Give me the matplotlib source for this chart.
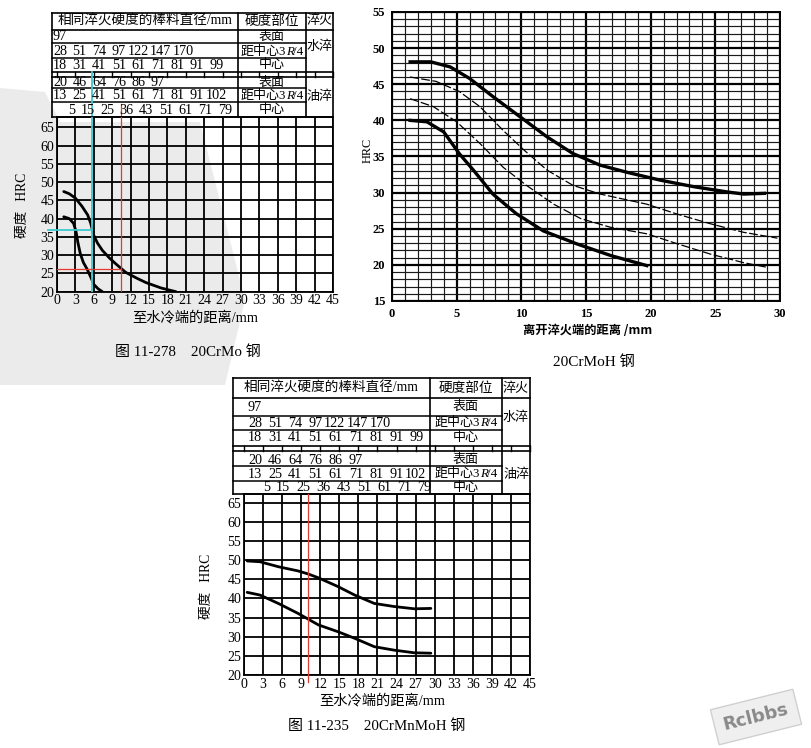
import matplotlib
matplotlib.use("Agg")
import matplotlib.pyplot as plt
from matplotlib.patches import Polygon

W, H = 812, 748
SERIF = ["Liberation Serif", "Noto Sans CJK SC"]
SANS_CJK = ["Noto Sans CJK SC", "DejaVu Sans"]

# ── shared table: bar diameters with the same quench hardness (mm) ──────────
water_surface = [97]
water_3r4     = [28, 51, 74, 97, 122, 147, 170]
water_center  = [18, 31, 41, 51, 61, 71, 81, 91, 99]
oil_surface   = [20, 46, 64, 76, 86, 97]
oil_3r4       = [13, 25, 41, 51, 61, 71, 81, 91, 102]
oil_center    = [5, 15, 25, 36, 43, 51, 61, 71, 79]
positions     = ["表面", "距中心3R/4", "中心", "表面", "距中心3R/4", "中心"]

# ── 20CrMo (fig 11-278) ─────────────────────────────────────────────────────
crmo_x_hi = [1.1, 2.0, 3.0, 4.1, 5.0, 5.5, 6.0, 6.6, 7.4, 8.5, 9.6, 11.2, 13.0, 14.5, 17.0, 19.4]
crmo_y_hi = [47.4, 46.8, 45.6, 43.3, 41.0, 38.7, 35.4, 33.3, 31.3, 29.3, 27.6, 25.3, 23.7, 22.5, 21.0, 20.0]
crmo_x_lo = [1.1, 2.0, 2.7, 3.1, 3.4, 3.8, 4.3, 4.9, 5.5, 6.0, 6.7, 7.4]
crmo_y_lo = [40.5, 40.0, 38.7, 36.5, 33.5, 30.4, 28.0, 26.2, 24.0, 22.0, 20.8, 20.0]
crmo_cyan = (5.7, 37.0)
crmo_red  = (10.4, 26.2)

# ── 20CrMoH ────────────────────────────────────────────────────────────────
h_x1 = [1.4, 3.0, 4.5, 6.0, 7.8, 9.9, 12.0, 14.0, 16.1, 18.2, 20.8, 23.4, 25.9, 27.2, 28.8]
h_y1 = [48.1, 48.1, 47.4, 45.8, 43.3, 40.5, 37.7, 35.4, 33.8, 32.8, 31.7, 30.8, 30.1, 29.8, 29.9]
h_x2 = [1.4, 3.4, 5.2, 6.8, 8.6, 10.2, 12.0, 14.0, 16.1, 19.7, 22.1, 24.6, 27.2, 29.8]
h_y2 = [46.0, 45.4, 44.0, 41.9, 38.6, 35.9, 33.1, 31.0, 29.8, 28.4, 27.0, 25.7, 24.5, 23.7]
h_x3 = [1.4, 3.2, 5.0, 6.8, 8.6, 10.4, 12.5, 14.6, 16.9, 19.7, 22.1, 24.6, 27.2, 28.9]
h_y3 = [43.0, 41.9, 39.8, 36.8, 33.5, 31.0, 28.4, 26.4, 25.2, 24.3, 22.9, 21.5, 20.3, 19.7]
h_x4 = [1.4, 2.7, 4.0, 5.2, 6.3, 7.8, 9.6, 11.7, 14.3, 16.9, 19.7]
h_y4 = [40.0, 39.8, 38.4, 35.4, 33.1, 29.8, 27.1, 24.7, 22.9, 21.3, 19.9]

# ── 20CrMnMoH (fig 11-235) ──────────────────────────────────────────────────
mn_x    = [0.5, 2.5, 5.4, 8.5, 10.1, 11.7, 14.8, 17.4, 20.5, 23.6, 26.8, 29.4]
mn_y_hi = [49.8, 49.6, 48.3, 47.2, 46.4, 45.4, 43.1, 40.9, 38.7, 37.9, 37.3, 37.4]
mn_y_lo = [41.6, 40.9, 38.7, 36.1, 34.6, 33.1, 31.3, 29.6, 27.4, 26.5, 25.8, 25.7]
mn_red  = 10.1

RED, CYAN = "#e23a2e", "#3cc8cf"
NUM_FS = 10.2
DIGIT_W = NUM_FS * 100 / 72 * 0.5   # serif digit width in px


def px_axes(fig, l, t, r, b):
    return fig.add_axes([l / W, 1 - b / H, (r - l) / W, (b - t) / H], zorder=2)


def position_label(bg, cx, y, pos):
    # "距中心3R/4" with an italic R; mathtext would drop the CJK glyphs
    if "R/4" not in pos:
        bg.text(cx, y, pos, ha="center", va="center", fontsize=9.4, family=SERIF)
        return
    a = cx + 14
    bg.text(a, y, pos.split("R")[0], ha="right", va="center", fontsize=9.4, family=SERIF)
    bg.text(a, y, "R", ha="left", va="center", fontsize=9.4, family=SERIF, style="italic")
    bg.text(a + 7.5, y, "/4", ha="left", va="center", fontsize=9.4, family=SERIF)


def draw_table(bg, left, c1, c2, right, lines, text_y, num_right0, slot):
    top, hdr, r1, r2, r3, gap, r4, r5, r6 = lines
    for y in (top, hdr, r3, gap, r6):
        bg.plot([left, right], [y, y], color="k", lw=1.2)
    for y in (r1, r2, r4, r5):
        bg.plot([left, c2], [y, y], color="k", lw=1.1)
    for x in (left, c1, c2, right):
        bg.plot([x, x], [top, r6], color="k", lw=1.2)
    bg.text((left + c1) / 2, text_y[0], "相同淬火硬度的棒料直径/mm", ha="center",
            va="center", fontsize=9.8, family=SERIF)
    bg.text((c1 + c2) / 2, text_y[0], "硬度部位", ha="center", va="center",
            fontsize=9.8, family=SERIF)
    bg.text((c2 + right) / 2, text_y[0], "淬火", ha="center", va="center",
            fontsize=9.4, family=SERIF)
    rows = [water_surface, water_3r4, water_center, oil_surface, oil_3r4, oil_center]
    for i, (vals, pos) in enumerate(zip(rows, positions)):
        y = text_y[i + 1]
        x = num_right0 + (8 if vals is oil_center else 0)
        for j, v in enumerate(vals):
            if j:
                x = max(x + slot, x + len(str(v)) * DIGIT_W + 1.5)
            bg.text(x, y, str(v), ha="right", va="center",
                    fontsize=NUM_FS, family=SERIF)
        position_label(bg, (c1 + c2) / 2, y, pos)
    bg.text((c2 + right) / 2, text_y[7], "水淬", ha="center", va="center",
            fontsize=9.4, family=SERIF)
    bg.text((c2 + right) / 2, text_y[8], "油淬", ha="center", va="center",
            fontsize=9.4, family=SERIF)


def water_end_axes(ax, ylim):
    ax.set_xlim(0, 45)
    ax.set_ylim(*ylim)
    ax.set_facecolor("none")
    ax.set_xticks(range(0, 46, 3))
    ax.set_yticks(range(20, 66, 5))
    ax.grid(True, color="k", lw=1.3)
    ax.set_axisbelow(True)
    ax.tick_params(length=0, labelsize=10, pad=2)
    for lab in ax.get_xticklabels() + ax.get_yticklabels():
        lab.set_family(SERIF)
    for s in ax.spines.values():
        s.set_linewidth(1.3)


def main():
    fig = plt.figure(figsize=(W / 100, H / 100), dpi=100)
    bg = fig.add_axes([0, 0, 1, 1], zorder=0)
    bg.set_xlim(0, W)
    bg.set_ylim(H, 0)
    bg.axis("off")

    # faint scanned watermark behind the first chart
    bg.add_patch(Polygon([(0, 88), (45, 92), (60, 122), (200, 122), (245, 300),
                          (225, 385), (0, 385)], closed=True, fc="#ebebeb", ec="none"))

    # ── chart 1: 20CrMo ──
    draw_table(bg, 52, 238, 306, 333,
               (12.7, 30, 43, 58, 71.7, 76.7, 88, 102, 117),
               (21, 36.5, 51.5, 65, 82.5, 95.5, 110, 46.7, 96.7), 67, 19.6)
    l1, r1 = 57, 333
    for mm in range(0, 46, 3):
        x = l1 + mm * (r1 - l1) / 45
        bg.plot([x, x], [71.7, 76.7], color="k", lw=1.0)
    ax1 = px_axes(fig, l1, 117, r1, 291.7)
    water_end_axes(ax1, (20, 67.8))
    ax1.plot(crmo_x_hi, crmo_y_hi, color="k", lw=2.0, solid_capstyle="round")
    ax1.plot(crmo_x_lo, crmo_y_lo, color="k", lw=2.0, solid_capstyle="round")
    cx, cy = crmo_cyan
    ax1.plot([cx, cx], [20, 67.8], color=CYAN, lw=1.3, zorder=3)
    ax1.plot([-1.5, cx], [cy, cy], color=CYAN, lw=1.3, clip_on=False, zorder=3)
    rx, ry = crmo_red
    ax1.plot([rx, rx], [20, 67.8], color=RED, lw=0.9, zorder=3)
    ax1.plot([0, rx], [ry, ry], color=RED, lw=0.9, zorder=3)
    bg.plot([l1 + cx * (r1 - l1) / 45] * 2, [72, 117], color=CYAN, lw=1.3)
    bg.plot([l1 + rx * (r1 - l1) / 45] * 2, [104, 117], color=RED, lw=0.9)
    bg.text(23, 205, "硬度   HRC", rotation=90, ha="center", va="center",
            fontsize=9.8, family=SERIF)
    bg.text(195, 318, "至水冷端的距离/mm", ha="center", va="center",
            fontsize=10.3, family=SERIF)
    bg.text(188, 352, "图 11-278    20CrMo 钢", ha="center", va="center",
            fontsize=10.8, family=SERIF)

    # ── chart 2: 20CrMoH ──
    ax2 = px_axes(fig, 392, 12, 780, 301)
    ax2.set_xlim(0, 30)
    ax2.set_ylim(15, 55)
    ax2.set_xticks(range(0, 31, 5))
    ax2.set_yticks(range(15, 56, 5))
    ax2.set_xticks(range(0, 31), minor=True)
    ax2.set_yticks(range(15, 56), minor=True)
    ax2.grid(True, which="minor", color="#1a1a1a", lw=0.85)
    ax2.grid(True, which="major", color="k", lw=1.6)
    ax2.set_axisbelow(True)
    ax2.tick_params(which="both", length=0, labelsize=9, pad=5)
    for lab in ax2.get_xticklabels() + ax2.get_yticklabels():
        lab.set_family(SERIF)
        lab.set_fontweight("bold")
    for s in ax2.spines.values():
        s.set_linewidth(1.4)
    ax2.plot(h_x1, h_y1, color="k", lw=2.4)
    ax2.plot(h_x2, h_y2, color="k", lw=0.9, ls=(0, (7, 2)))
    ax2.plot(h_x3, h_y3, color="k", lw=0.9, ls=(0, (7, 2)))
    ax2.plot(h_x4, h_y4, color="k", lw=2.4)
    bg.text(368, 150, "HRC", rotation=90, ha="center", va="center",
            fontsize=8.8, family=SERIF)
    bg.text(588, 330, "离开淬火端的距离 /mm", ha="center", va="center",
            fontsize=8.8, family=SANS_CJK, fontweight="bold")
    bg.text(594, 362, "20CrMoH 钢", ha="center", va="center",
            fontsize=11, family=SERIF)

    # ── chart 3: 20CrMnMoH ──
    draw_table(bg, 233, 430, 502, 530,
               (378.3, 398.3, 415.7, 430, 445.7, 451, 465.7, 481, 494),
               (388.3, 407.3, 423.3, 437.7, 460, 474, 487.7, 418, 475), 262, 20.2)
    l3, r3 = 244, 530
    for mm in range(0, 46, 3):
        x = l3 + mm * (r3 - l3) / 45
        bg.plot([x, x], [445.7, 451], color="k", lw=1.0)
    ax3 = px_axes(fig, l3, 494, r3, 675)
    water_end_axes(ax3, (20, 67.3))
    ax3.plot(mn_x, mn_y_hi, color="k", lw=2.0, solid_capstyle="round")
    ax3.plot(mn_x, mn_y_lo, color="k", lw=2.0, solid_capstyle="round")
    ax3.plot([mn_red, mn_red], [18.2, 67.3], color=RED, lw=0.9, clip_on=False, zorder=3)
    bg.text(207, 586, "硬度   HRC", rotation=90, ha="center", va="center",
            fontsize=9.8, family=SERIF)
    bg.text(382, 701, "至水冷端的距离/mm", ha="center", va="center",
            fontsize=10.3, family=SERIF)
    bg.text(377, 726, "图 11-235    20CrMnMoH 钢", ha="center", va="center",
            fontsize=10.8, family=SERIF)

    bg.text(756, 717, "Rclbbs", rotation=14, ha="center", va="center",
            fontsize=13, fontweight="bold", color="#8a8a8a", family="DejaVu Sans",
            bbox=dict(boxstyle="square,pad=0.5", fc="#efefef", ec="#d0d0d0"))

    fig.savefig("out.png", dpi=100)


if __name__ == "__main__":
    main()
